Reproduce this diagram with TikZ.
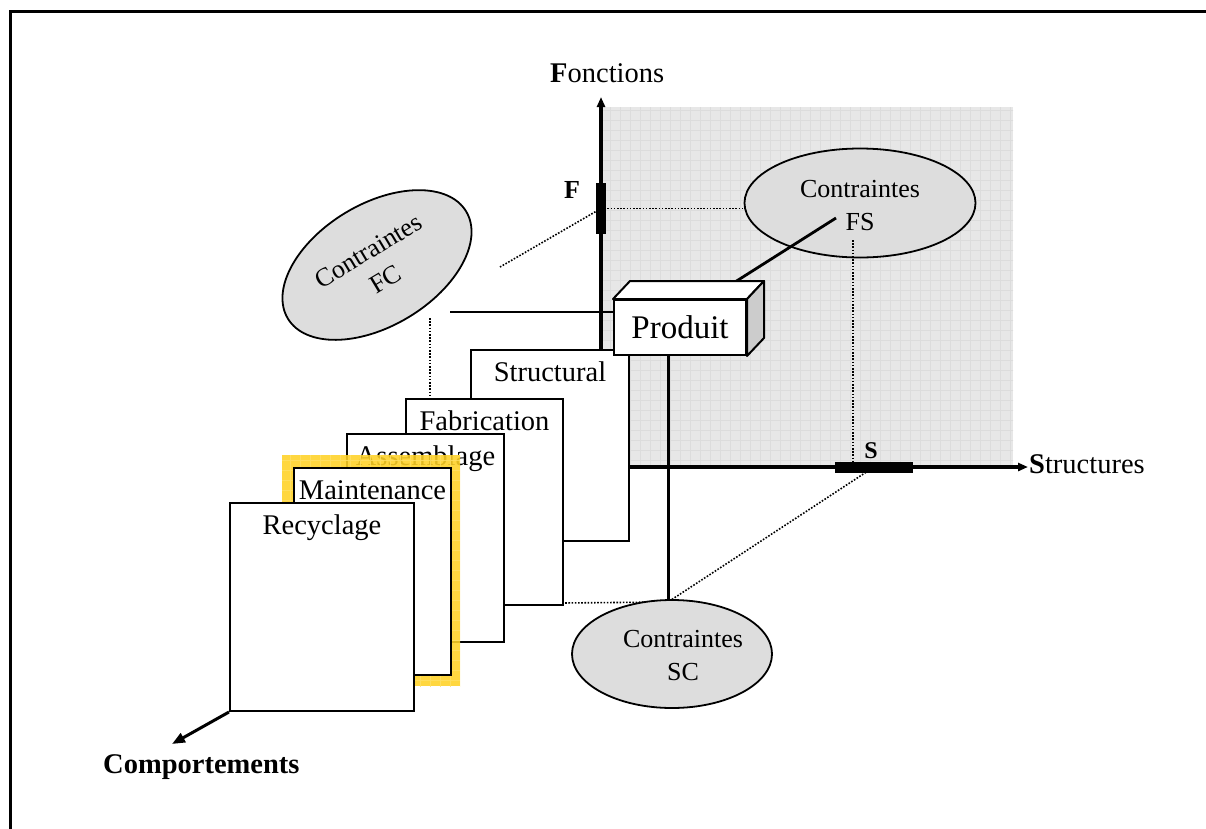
\documentclass[tikz,border=0pt]{standalone}
\usepackage{fontspec}
\setmainfont{Liberation Serif}
\usetikzlibrary{shapes.geometric,arrows.meta,calc}

\definecolor{ellfill}{HTML}{DDDDDD}
\definecolor{panelbg}{HTML}{E7E7E7}
\definecolor{panelgrid}{HTML}{DCDCDC}
\definecolor{hiyellow}{HTML}{FFD226}
\definecolor{hiygrid}{HTML}{FFE066}
\definecolor{sideface}{HTML}{CCCCCC}

\begin{document}
\begin{tikzpicture}[x=1pt,y=-1pt,
  frameline/.style={line width=3pt},
  axisline/.style={line width=4pt,-{Triangle[length=10pt,width=8pt]}},
  tickbar/.style={fill=black,draw=none,inner sep=0pt},
  link/.style={line width=2.8pt},
  dots/.style={line width=1.6pt,dash pattern=on 1.6pt off 1.6pt},
  ell/.style={ellipse,draw,line width=1.8pt,fill=ellfill,inner sep=0pt},
  ctext/.style={font=\fontsize{26}{33}\selectfont,align=center,inner sep=0pt},
  pagebox/.style={draw,line width=2pt,fill=white,anchor=north west,inner sep=0pt},
  pagetext/.style={font=\fontsize{28.5}{34}\selectfont,anchor=base,inner sep=0pt},
  axlabel/.style={font=\fontsize{28.5}{34}\selectfont,anchor=base west,inner sep=0pt},
]
\useasboundingbox (0,0) rectangle (1206,828);

% outer frame
\draw[frameline] (10,830) -- (10,11) -- (1210,11);

% shaded function/structure plane
\fill[panelbg] (603,107) rectangle (1013,467);
\begin{scope}
  \clip (603,107) rectangle (1013,467);
  \draw[panelgrid,line width=0.8pt,step=10pt] (600,100) grid (1020,470);
\end{scope}

% axes
\coordinate (o) at (601,467);
\coordinate (ftip) at (601,97);
\coordinate (stip) at (1028,467);
\draw[axisline] (o) -- (ftip);
\draw[axisline] (o) -- (stip);
\node[tickbar,minimum width=10,minimum height=51] (fmark) at (601,208.5) {};
\node[tickbar,minimum width=78,minimum height=11] (smark) at (874,467) {};

\node[axlabel] (lfonc) at (550,82) {{\bfseries F}onctions};
\node[axlabel] (lstruc) at (1029,473) {{\bfseries S}tructures};
\node[font=\fontsize{26}{30}\selectfont\bfseries,anchor=base,inner sep=0pt] (lf) at (572,198) {F};
\node[font=\fontsize{24}{28}\selectfont\bfseries,anchor=base,inner sep=0pt] (ls) at (871,458) {S};

% FS constraints
\node[ell,minimum width=231,minimum height=109] (fs) at (860,203) {};
\node[ctext,anchor=base] (fs1) at (860,197) {Contraintes};
\node[ctext,anchor=base] (fs2) at (860,230) {FS};

% construction lines
\coordinate (fcdot) at (500,267);
\coordinate (fsdrop) at (853,240);
\coordinate (sctop) at (668,602);
\coordinate (fcdrop) at (430,318);
\coordinate (fsin) at (836,218);
\coordinate (boxtop) at (735,282);
\coordinate (fcend) at (450,312);
\draw[dots] (fmark.center) -- (fmark.center -| fs.west);
\draw[dots] (fmark.center) -- (fcdot);
\draw[dots] (fsdrop) -- (fsdrop |- smark.center);
\draw[dots] (smark.center) -- (sctop);
\draw[dots] (fcdrop) -- (430,398);
\draw[dots] (562,603) -- (sctop);
\draw[link] (boxtop) -- (fsin);
\draw[link] (fcend) -- (614,312);
\draw[link,line width=3pt] (668,355) -- (sctop);

% SC constraints
\node[ell,minimum width=200,minimum height=108] (sc) at (672,654) {};
\node[ctext,anchor=base] (sc1) at (683,647) {Contraintes};
\node[ctext,anchor=base] (sc2) at (683,680) {SC};

% FC constraints
\node[ell,ctext,rotate=31,minimum width=208,minimum height=122] (fc) at (377,265) {Contraintes\\FC};

% behaviour pages
\node[pagebox,minimum width=158,minimum height=191] (struct) at (470,349) {};
\node[pagetext] (tstruct) at ($(struct.north)+(0,32)$) {Structural};
\node[pagebox,minimum width=157,minimum height=206] (fab) at (405,398) {};
\node[pagetext] (tfab) at ($(fab.north)+(0,32)$) {Fabrication};
\node[pagebox,minimum width=157,minimum height=208] (assem) at (346,433) {};
\node[pagetext] (tassem) at ($(assem.north)+(0,32)$) {Assemblage};
% highlighted page
\begin{scope}
  \clip (282,455) rectangle (460,686);
  \fill[hiyellow,opacity=0.88] (282,455) rectangle (460,686);
  \draw[hiygrid,line width=0.8pt,step=10pt,opacity=0.8] (280,450) grid (470,690);
\end{scope}
\node[pagebox,minimum width=157,minimum height=207] (maint) at (293,467) {};
\node[pagetext] (tmaint) at ($(maint.north)+(0,32)$) {Maintenance};
\node[pagebox,minimum width=184,minimum height=208] (recyc) at (229,502) {};
\node[pagetext] (trecyc) at ($(recyc.north)+(0,32)$) {Recyclage};

% product block
\node[draw,line width=2pt,fill=white,minimum width=132,minimum height=55,inner sep=0pt,
      font=\fontsize{33}{40}\selectfont] (prod) at (680,327.5) {Produit};
\draw[line width=2pt,fill=white,line join=round]
  (prod.north west) -- ++(17,-18) -- ($(prod.north east)+(17,-18)$) -- (prod.north east) -- cycle;
\draw[line width=2pt,fill=sideface,line join=round]
  (prod.north east) -- ++(17,-18) -- ($(prod.south east)+(17,-18)$) -- (prod.south east) -- cycle;

% behaviour axis
\coordinate (ctip) at (172,744);
\draw[line width=3pt,-{Triangle[length=13pt,width=10pt]}] (recyc.south west) -- (ctip);
\node[axlabel,font=\fontsize{28.5}{34}\selectfont\bfseries] (lcomp) at (103,773) {Comportements};
\end{tikzpicture}
\end{document}
